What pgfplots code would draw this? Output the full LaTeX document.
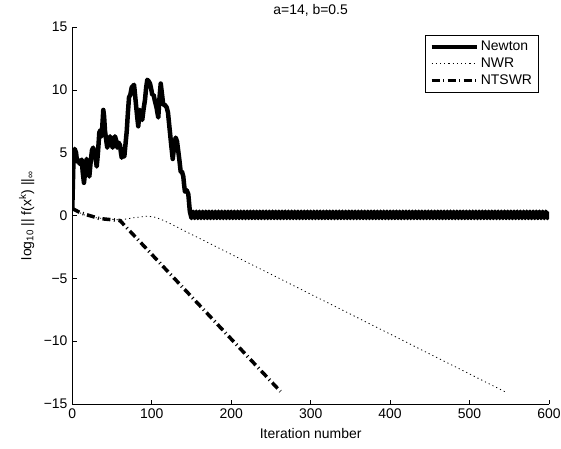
\documentclass[border=0pt]{standalone}
\usepackage{fontspec}
\setmainfont{Liberation Sans}
\usepackage{pgfplots}
\pgfplotsset{compat=1.18}
\begin{document}
\fontsize{14}{16}\selectfont
\begin{tikzpicture}
\begin{axis}[
 name=ax,
 scale only axis, width=476.7bp, height=377bp,
 xmin=0,xmax=600,ymin=-15,ymax=15,
 axis x line*=bottom, axis y line*=left,
 xtick={0,100,...,600}, ytick={-15,-10,...,15},
 yticklabels={−15,−10,−5,0,5,10,15},
 tick align=inside, major tick length=4.5bp,
 tick style={line width=0.6bp, black},
 axis line style={line width=0.6bp},
 /pgf/number format/assume math mode=true,
 ticklabel style={font=\fontsize{14}{16}\selectfont},
 label style={font=\fontsize{14}{16}\selectfont},
 title style={font=\fontsize{14}{16}\selectfont},
 xlabel={Iteration number},
 ylabel={log\textsubscript{10} || f(x\textsuperscript{k}) ||\textsubscript{∞}},
 ylabel shift=0bp,
 title={a=14, b=0.5},
 legend cell align=left,
 legend style={at={(0.9776,0.9788)}, anchor=north east, draw=black, line width=0.6bp,
   font=\fontsize{14}{16}\selectfont, row sep=1bp, inner xsep=4bp, inner ysep=4bp},
 legend image code/.code={\draw[#1] (0bp,0bp) -- (45bp,0bp);},
]
\addplot[black, line width=4.5bp, line join=round] coordinates {
(0,0.6)(1.5,4.5)(3,5.3)(4.7,5.0)(6,4.3)(7.6,4.4)(9.5,4.1)(11.8,4.45)(13.2,3.4)(14.7,2.6)(16.3,3.6)(18,4.5)
(19.5,4.0)(21.4,3.1)(23,4.2)(24.8,5.2)(26.3,5.4)(27.7,5.0)(29.2,4.6)(30.7,3.9)(32.3,5.0)(34,6.6)
(35.5,6.8)(37,6.3)(39,8.4)(40,7.9)(41.2,6.7)(42.7,6.0)(44,5.4)(45.8,5.9)(47.5,6.3)(49,5.8)(50.8,5.4)
(52.2,5.9)(53.7,6.3)(55.1,6.0)(56.6,5.4)(58.3,5.8)(60,5.6)(61.2,5.0)(62.2,4.6)(64,4.9)(65.5,4.7)
(67,5.7)(68.5,6.7)(70,8.2)(71.4,9.4)(73,9.6)(74.8,10.2)(76.3,10.3)(77.7,10.4)(79,9.6)(80.2,8.8)
(81.6,7.9)(83,7.1)(84,7.8)(85.2,8.4)(86.6,8.1)(88,7.6)(89.8,8.5)(91.5,9.2)(93,10.2)(94.4,10.8)
(96,10.7)(97.8,10.5)(99.2,10.1)(100.7,9.6)(102.3,9.6)(104,9.1)(106,8.6)(108.2,7.8)(109.8,9.4)
(111.3,10.5)(113,9.6)(114.5,8.8)(116.5,8.8)(118.8,8.6)(120.4,8.2)(122,7.2)(124.2,5.8)(126.4,4.5)
(128.2,5.5)(130.1,6.2)(131.8,5.9)(133.4,5.1)(135,4.3)(136.4,3.5)(138,3.5)(139.7,3.1)(140.8,2.4)
(141.8,1.9)(144,2.0)(146,1.7)(147,1.0)
(148,.3)(150,-.2)(152,.3)(154,-.2)(156,.3)(158,-.2)(160,.3)(162,-.2)(164,.3)(166,-.2)
(168,.3)(170,-.2)(172,.3)(174,-.2)(176,.3)(178,-.2)(180,.3)(182,-.2)(184,.3)(186,-.2)
(188,.3)(190,-.2)(192,.3)(194,-.2)(196,.3)(198,-.2)(200,.3)(202,-.2)(204,.3)(206,-.2)
(208,.3)(210,-.2)(212,.3)(214,-.2)(216,.3)(218,-.2)(220,.3)(222,-.2)(224,.3)(226,-.2)
(228,.3)(230,-.2)(232,.3)(234,-.2)(236,.3)(238,-.2)(240,.3)(242,-.2)(244,.3)(246,-.2)
(248,.3)(250,-.2)(252,.3)(254,-.2)(256,.3)(258,-.2)(260,.3)(262,-.2)(264,.3)(266,-.2)
(268,.3)(270,-.2)(272,.3)(274,-.2)(276,.3)(278,-.2)(280,.3)(282,-.2)(284,.3)(286,-.2)
(288,.3)(290,-.2)(292,.3)(294,-.2)(296,.3)(298,-.2)(300,.3)(302,-.2)(304,.3)(306,-.2)
(308,.3)(310,-.2)(312,.3)(314,-.2)(316,.3)(318,-.2)(320,.3)(322,-.2)(324,.3)(326,-.2)
(328,.3)(330,-.2)(332,.3)(334,-.2)(336,.3)(338,-.2)(340,.3)(342,-.2)(344,.3)(346,-.2)
(348,.3)(350,-.2)(352,.3)(354,-.2)(356,.3)(358,-.2)(360,.3)(362,-.2)(364,.3)(366,-.2)
(368,.3)(370,-.2)(372,.3)(374,-.2)(376,.3)(378,-.2)(380,.3)(382,-.2)(384,.3)(386,-.2)
(388,.3)(390,-.2)(392,.3)(394,-.2)(396,.3)(398,-.2)(400,.3)(402,-.2)(404,.3)(406,-.2)
(408,.3)(410,-.2)(412,.3)(414,-.2)(416,.3)(418,-.2)(420,.3)(422,-.2)(424,.3)(426,-.2)
(428,.3)(430,-.2)(432,.3)(434,-.2)(436,.3)(438,-.2)(440,.3)(442,-.2)(444,.3)(446,-.2)
(448,.3)(450,-.2)(452,.3)(454,-.2)(456,.3)(458,-.2)(460,.3)(462,-.2)(464,.3)(466,-.2)
(468,.3)(470,-.2)(472,.3)(474,-.2)(476,.3)(478,-.2)(480,.3)(482,-.2)(484,.3)(486,-.2)
(488,.3)(490,-.2)(492,.3)(494,-.2)(496,.3)(498,-.2)(500,.3)(502,-.2)(504,.3)(506,-.2)
(508,.3)(510,-.2)(512,.3)(514,-.2)(516,.3)(518,-.2)(520,.3)(522,-.2)(524,.3)(526,-.2)
(528,.3)(530,-.2)(532,.3)(534,-.2)(536,.3)(538,-.2)(540,.3)(542,-.2)(544,.3)(546,-.2)
(548,.3)(550,-.2)(552,.3)(554,-.2)(556,.3)(558,-.2)(560,.3)(562,-.2)(564,.3)(566,-.2)
(568,.3)(570,-.2)(572,.3)(574,-.2)(576,.3)(578,-.2)(580,.3)(582,-.2)(584,.3)(586,-.2)
(588,.3)(590,-.2)(592,.3)(594,-.2)(596,.3)(598,-.2)(600,.3)
};
\addlegendentry{Newton}
\addplot[black, line width=0.8bp, dash pattern=on 1.2bp off 3bp] coordinates {
(0,0.5)(10,0.2)(20,-0.1)(44,-0.28)(61,-0.35)(78,-0.17)(95,-0.05)(105,-0.15)(115,-0.4)
(125,-0.7)(139,-1.15)(547,-14.1)
};
\addlegendentry{NWR}
\addplot[black, line width=3.5bp, dash pattern=on 8bp off 3.5bp on 1bp off 3.5bp] coordinates {
(0,0.55)(11,0.2)(34,-0.24)(60,-0.4)(262,-14)
};
\addlegendentry{NTSWR}
\end{axis}
\pgfresetboundingbox
\path (ax.south west) ++(-72.3bp,-44bp) coordinate (bl);
\path (ax.north east) ++(12bp,27bp) coordinate (tr);
\path[use as bounding box] (bl) rectangle (tr);
\end{tikzpicture}
\end{document}
